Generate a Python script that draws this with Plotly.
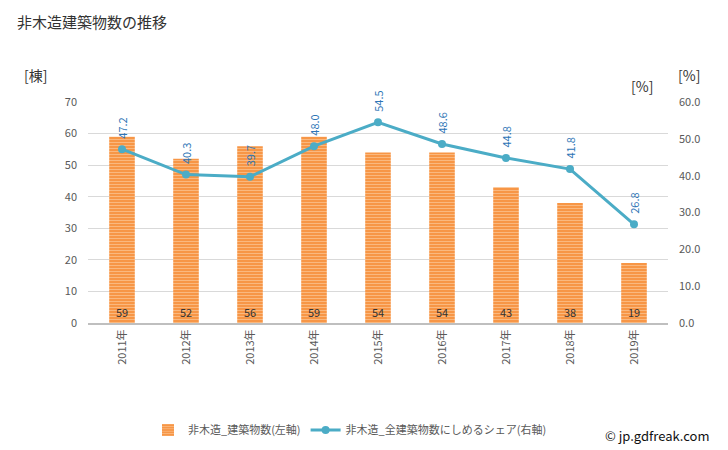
import plotly.graph_objects as go

years = ["2011年", "2012年", "2013年", "2014年", "2015年", "2016年", "2017年", "2018年", "2019年"]
buildings = [59, 52, 56, 59, 54, 54, 43, 38, 19]
share = [47.2, 40.3, 39.7, 48.0, 54.5, 48.6, 44.8, 41.8, 26.8]

FONT = "Noto Sans CJK JP"
BAR = "#F79646"
LINE = "#4BACC6"

L, R, T, B = 88, 60, 102, 127

fig = go.Figure()
fig.add_trace(go.Bar(
    x=years, y=buildings, name="非木造_建築物数(左軸)",
    marker=dict(color=BAR, line=dict(width=0),
                pattern=dict(shape="-", fgcolor="#FDD9B5", size=3, solidity=0.35, fillmode="overlay")),
    width=0.4,
    text=[str(v) for v in buildings], textposition="inside", insidetextanchor="start",
    textangle=0, textfont=dict(color="#333333", size=11, family=FONT),
    hoverinfo="skip",
))
fig.add_trace(go.Scatter(
    x=years, y=share, name="非木造_全建築物数にしめるシェア(右軸)", yaxis="y2",
    mode="lines+markers", line=dict(color=LINE, width=3),
    marker=dict(color=LINE, size=8),
))

for x, v in zip(years, share):
    fig.add_annotation(x=x, y=v, xref="x", yref="y2", text=f"{v:.1f}", textangle=-90,
                       showarrow=False, yanchor="bottom", yshift=8,
                       font=dict(color="#2E75B6", size=11, family=FONT))

fig.update_layout(
    width=728, height=450,
    margin=dict(l=L, r=R, t=T, b=B, autoexpand=False),
    plot_bgcolor="white", paper_bgcolor="white",
    font=dict(family=FONT, size=11, color="#595959"),
    showlegend=True,
    legend=dict(orientation="h", x=148 / 728, xanchor="left", xref="container",
                y=20 / 450, yanchor="middle", yref="container",
                font=dict(size=11, color="#595959", family=FONT), itemwidth=30),
    xaxis=dict(tickangle=-90, showline=True, linecolor="#BFBFBF", linewidth=2,
               automargin=False, tickfont=dict(size=11, color="#595959")),
    yaxis=dict(range=[0, 70], dtick=10, showgrid=True, gridcolor="#D9D9D9", zeroline=False,
               automargin=False, tickfont=dict(size=11, color="#595959"), ticklabelstandoff=10),
    yaxis2=dict(range=[0, 60], dtick=10, overlaying="y", side="right", showgrid=False,
                automargin=False, tickformat=".1f", zeroline=False,
                tickfont=dict(size=11, color="#595959"), ticklabelstandoff=10),
)


def paper_xy(px, py):
    return (px - L) / (728 - L - R), (450 - B - py) / (450 - T - B)


for txt, px, py, anchor, size, color in [
    ("非木造建築物数の推移", 15, 22, "left", 15, "#333333"),
    ("[棟]", 22, 75, "left", 14, "#333333"),
    ("[%]", 676, 75, "left", 14, "#333333"),
    ("[%]", 629, 86, "left", 14, "#333333"),
    ("© jp.gdfreak.com", 712, 435, "right", 13, "#111111"),
]:
    x, y = paper_xy(px, py)
    fig.add_annotation(x=x, y=y, xref="paper", yref="paper", text=txt, showarrow=False,
                       xanchor=anchor, yanchor="middle",
                       font=dict(size=size, color=color, family=FONT))

fig.write_html("out.html")
